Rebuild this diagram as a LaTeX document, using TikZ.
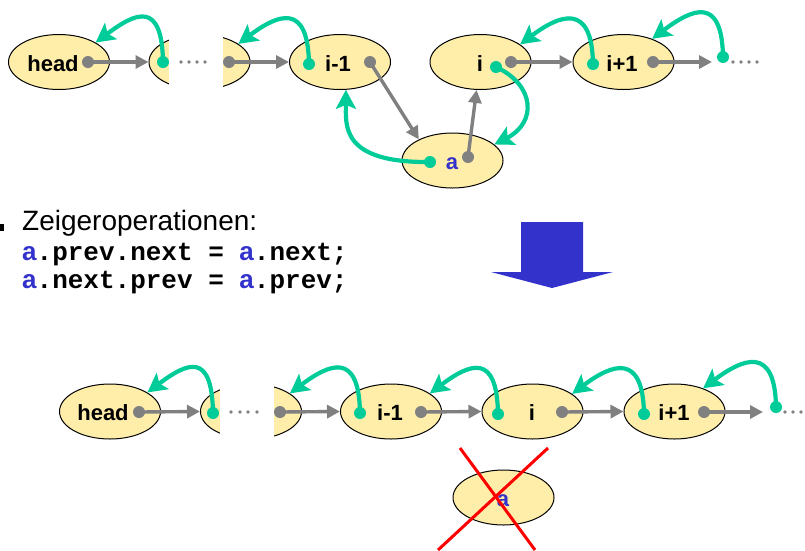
\documentclass[tikz,border=0pt]{standalone}
\usepackage{fontspec}
\setmainfont{Liberation Sans}
\newfontfamily\codefont{Liberation Mono}
\usetikzlibrary{arrows.meta,calc,shapes.geometric}
\definecolor{nodefill}{HTML}{FFEEAA}
\definecolor{ptrgreen}{HTML}{00CC99}
\definecolor{ptrgray}{HTML}{808080}
\definecolor{ablue}{HTML}{3333CC}
\tikzset{
  elem/.style={ellipse, draw=black, line width=1pt, fill=nodefill, minimum width=101pt, minimum height=55pt, inner sep=0pt},
  lbl/.style={font=\fontsize{22}{26}\selectfont\bfseries, inner sep=0pt, anchor=base},
  albl/.style={lbl, text=ablue},
  gdot/.style={circle, fill=ptrgray, minimum size=12pt, inner sep=0pt},
  cdot/.style={circle, fill=ptrgreen, minimum size=12pt, inner sep=0pt},
  nextptr/.style={draw=ptrgray, line width=3.4pt, -{Triangle[length=13pt,width=13pt]}},
  prevptr/.style={draw=ptrgreen, line width=4.2pt, -{Stealth[length=19pt,width=20pt,inset=4pt]}},
  gap/.style={fill=white, draw=none},
  sdot/.style={fill=ptrgray},
  code/.style={inner sep=0pt, anchor=base west, font=\fontsize{26}{28}\selectfont}
}
\newcommand{\ac}{{\color{ablue}\bfseries a}}
\begin{document}
\begin{tikzpicture}[x=1pt,y=-1pt]
\useasboundingbox (0,0) rectangle (805,550);
% ---------- top row ----------
\node[elem] (hd1) at (59,62) {};
\node[elem] (e2) at (199.5,62) {};
\node[elem] (im1) at (340,62) {};
\node[elem] (i1) at (480.5,62) {};
\node[elem] (ip1) at (623.5,62) {};
\node[elem] (a1) at (452.5,160.5) {};
\fill[gap] (169,30) rectangle (223,96);
\foreach \x in {181,189,197,205} \fill[sdot] (\x,62) circle (1.8);
\foreach \x in {733,741,749,757} \fill[sdot] (\x,62) circle (1.8);
\node[lbl] (hd1t) at (53,71) {head};
\node[lbl] (im1t) at (338,71) {i-1};
\node[lbl] (i1t) at (480,71) {i};
\node[lbl] (ip1t) at (622,71) {i+1};
\node[albl] (a1t) at (452,169) {a};
\node[gdot] (hd1n) at (88,62) {};
\node[cdot] (e2p) at (163,62) {};
\node[gdot] (e2n) at (229,62) {};
\node[cdot] (im1p) at (309,64) {};
\node[gdot] (im1n) at (370,62) {};
\node[cdot] (i1p) at (496,67) {};
\node[gdot] (i1n) at (511,62) {};
\node[cdot] (ip1p) at (593,64) {};
\node[gdot] (ip1n) at (653,62) {};
\coordinate (end1) at (712,62);
\node[cdot] (fr1) at (723,57) {};
\node[cdot] (a1p) at (430,162) {};
\node[gdot] (a1n) at (468,157) {};
\draw[nextptr] (hd1n.center) -- (e2.west);
\draw[nextptr] (e2n.center) -- (im1.west);
\draw[nextptr] (im1n.center) -- (a1.148);
\draw[nextptr] (a1n.center) -- (i1.262);
\draw[nextptr] (i1n.center) -- (ip1.west);
\draw[nextptr] (ip1n.center) -- (end1);
\draw[prevptr] (e2p.center) .. controls +(-1,-62) and +(40,-30) .. (hd1.28);
\draw[prevptr] (im1p.center) .. controls +(-1,-62) and +(40,-30) .. (e2.25);
\draw[prevptr] (ip1p.center) .. controls +(-1,-62) and +(40,-30) .. (i1.24);
\draw[prevptr] (fr1.center) .. controls +(-1,-62) and +(40,-30) .. (ip1.39);
\draw[prevptr] (a1p.center) .. controls +(-90,1) and +(0,35) .. (im1.-78);
\draw[prevptr] (i1p.center) .. controls +(39,18) and +(43,-22) .. (a1.21);
% ---------- text ----------
\fill (-3,224) rectangle (4,231);
\node[inner sep=0pt, anchor=base west, font=\fontsize{28}{32}\selectfont] (zt) at (22,230) {Zeigeroperationen:};
\node[code] (c1) at (22,260) {\ac{\codefont\bfseries .prev.next = }\ac{\codefont\bfseries .next;}};
\node[code] (c2) at (22,288) {\ac{\codefont\bfseries .next.prev = }\ac{\codefont\bfseries .prev;}};
\fill[ablue] (521,222) -- (583,222) -- (583,272) -- (613,272) -- (552,288) -- (491,272) -- (521,272) -- cycle;
% ---------- bottom row ----------
\node[elem] (hd2) at (110,411.5) {};
\node[elem] (e3) at (251,411.5) {};
\node[elem] (im1b) at (391,411.5) {};
\node[elem] (ib) at (532.5,411.5) {};
\node[elem] (ip1b) at (674.5,411.5) {};
\node[elem] (ab) at (503.5,497.5) {};
\fill[gap] (220,380) rectangle (274,446);
\foreach \x in {231,240,248,257} \fill[sdot] (\x,412) circle (1.8);
\foreach \x in {785,793,801,809} \fill[sdot] (\x,412) circle (1.8);
\node[lbl] (hd2t) at (103,420) {head};
\node[lbl] (im1bt) at (390,420) {i-1};
\node[lbl] (ibt) at (532,420) {i};
\node[lbl] (ip1bt) at (674,420) {i+1};
\node[albl] (abt) at (503,506) {a};
\node[gdot] (hd2n) at (139,412) {};
\node[cdot] (e3p) at (213,413) {};
\node[gdot] (e3n) at (280,412) {};
\node[cdot] (im1bp) at (360,413) {};
\node[gdot] (im1bn) at (421,412) {};
\node[cdot] (ibp) at (498,414) {};
\node[gdot] (ibn) at (562,412) {};
\node[cdot] (ip1bp) at (644,414) {};
\node[gdot] (ip1bn) at (704,412) {};
\coordinate (end2) at (763,412);
\node[cdot] (fr2) at (776,407) {};
\draw[nextptr] (hd2n.center) -- (e3.west);
\draw[nextptr] (e3n.center) -- (im1b.west);
\draw[nextptr] (im1bn.center) -- (ib.west);
\draw[nextptr] (ibn.center) -- (ip1b.west);
\draw[nextptr] (ip1bn.center) -- (end2);
\draw[prevptr] (e3p.center) .. controls +(-1,-62) and +(40,-30) .. (hd2.27);
\draw[prevptr] (im1bp.center) .. controls +(-1,-62) and +(40,-30) .. (e3.25);
\draw[prevptr] (ibp.center) .. controls +(-1,-62) and +(40,-30) .. (im1b.25);
\draw[prevptr] (ip1bp.center) .. controls +(-1,-62) and +(40,-30) .. (ib.24);
\draw[prevptr] (fr2.center) .. controls +(-1,-62) and +(40,-30) .. (ip1b.39);
% red cross
\coordinate (x1) at (460,448);
\coordinate (x2) at (535,550);
\coordinate (x3) at (548,448);
\coordinate (x4) at (438,550);
\draw[red, line width=3pt] (x1) -- (x2);
\draw[red, line width=3pt] (x3) -- (x4);
\end{tikzpicture}
\end{document}
